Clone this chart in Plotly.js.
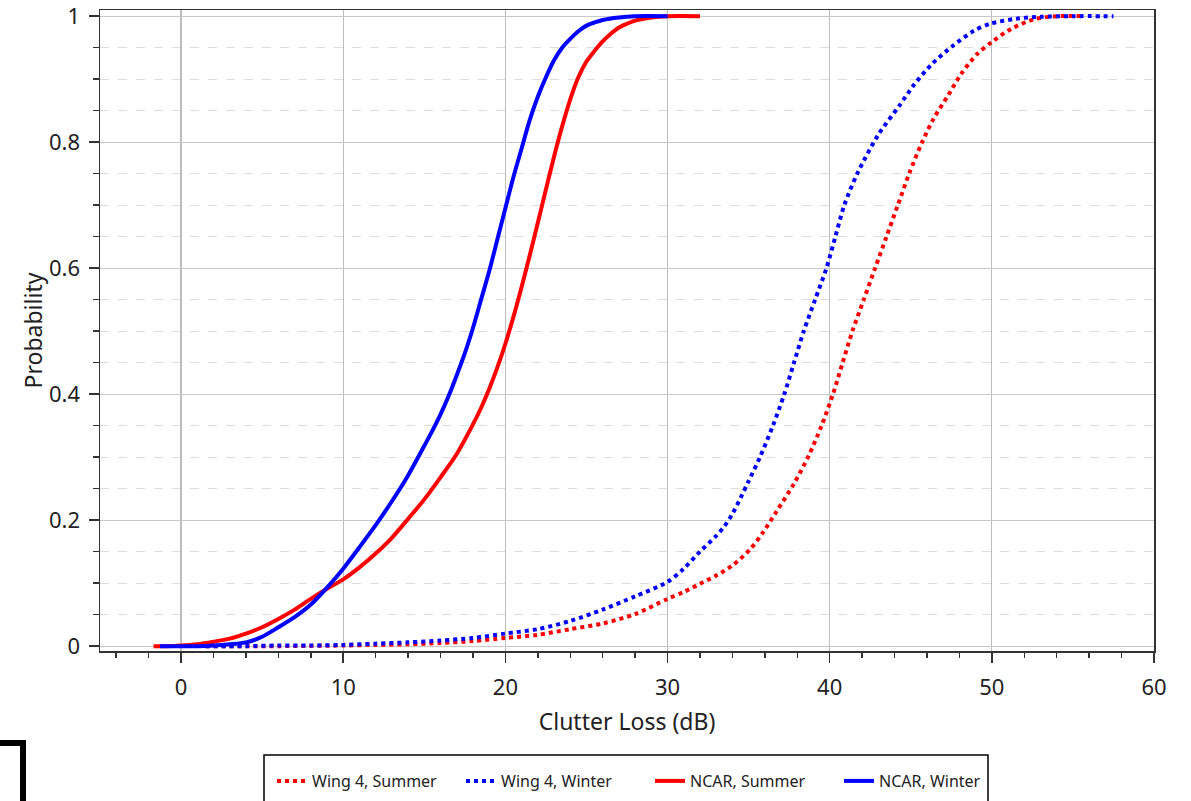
<!DOCTYPE html>
<html>
<head>
<meta charset="utf-8">
<script src="https://cdn.plot.ly/plotly-3.0.1.min.js"></script>
<style>
  html, body { margin: 0; padding: 0; background: #ffffff; }
  #chart { width: 1191px; height: 801px; }
</style>
</head>
<body>
<div id="chart"></div>
<script>
// Series names (legend order)
const seriesNames = ["Wing 4, Summer", "Wing 4, Winter", "NCAR, Summer", "NCAR, Winter"];

// Wing 4, Summer (red dotted)
const wingSummerX = [1.5, 6, 10, 12, 14, 16, 18, 20, 22, 24, 26, 28, 30, 31, 32, 33, 34, 35.1, 35.9, 36.7, 37.8, 38.7, 39.5, 40.2, 40.8, 41.4, 42.1, 42.8, 43.5, 44.2, 44.9, 45.7, 46.4, 47.3, 48.1, 49.1, 50, 51.2, 52.6, 54, 55.6];
const wingSummerY = [0, 0, 0.001, 0.002, 0.003, 0.005, 0.008, 0.013, 0.018, 0.027, 0.036, 0.051, 0.075, 0.086, 0.099, 0.112, 0.128, 0.154, 0.181, 0.213, 0.258, 0.302, 0.35, 0.4, 0.45, 0.5, 0.55, 0.6, 0.65, 0.7, 0.75, 0.8, 0.837, 0.874, 0.908, 0.94, 0.959, 0.98, 0.995, 1, 1];

// Wing 4, Winter (blue dotted)
const wingWinterX = [1.5, 4, 6, 8, 10, 12, 14, 16, 18, 20, 22, 24, 26, 28, 30, 31, 32, 33, 33.5, 34, 34.5, 35, 35.7, 36.5, 37.2, 37.8, 38.4, 39.1, 39.8, 40.35, 40.9, 41.7, 43.0, 44.3, 45.2, 46.3, 47.6, 48.9, 49.9, 51.5, 53, 55, 57.5];
const wingWinterY = [0, 0, 0.001, 0.001, 0.002, 0.004, 0.006, 0.009, 0.013, 0.02, 0.027, 0.04, 0.058, 0.079, 0.102, 0.123, 0.15, 0.175, 0.19, 0.21, 0.235, 0.262, 0.3, 0.35, 0.4, 0.45, 0.5, 0.55, 0.6, 0.65, 0.7, 0.75, 0.812, 0.858, 0.891, 0.924, 0.953, 0.977, 0.988, 0.996, 0.999, 1, 1];

// NCAR, Summer (red solid)
const ncarSummerX = [-1.7, -1, 0, 1, 2, 3, 4, 5, 6, 7, 8, 9, 10, 11, 12, 13, 14, 15, 16, 17, 18, 18.5, 19, 19.5, 20, 20.5, 21, 21.5, 22, 22.5, 23, 23.5, 24, 24.5, 25, 25.5, 26, 26.5, 27, 27.5, 28, 29, 30, 32];
const ncarSummerY = [0, 0, 0.001, 0.003, 0.007, 0.012, 0.02, 0.03, 0.043, 0.058, 0.075, 0.091, 0.106, 0.125, 0.147, 0.172, 0.202, 0.233, 0.268, 0.305, 0.352, 0.378, 0.408, 0.442, 0.48, 0.523, 0.57, 0.62, 0.672, 0.725, 0.777, 0.825, 0.868, 0.903, 0.928, 0.945, 0.96, 0.972, 0.982, 0.988, 0.993, 0.998, 1, 1];

// NCAR, Winter (blue solid)
const ncarWinterX = [-1.3, 0, 1, 2, 3, 4, 5, 6, 7, 8, 9, 10, 11, 12, 13, 14, 15, 15.5, 16, 16.5, 17, 17.5, 18, 18.5, 19, 19.5, 20, 20.5, 21, 21.5, 22, 22.5, 23, 23.5, 24, 24.5, 25, 25.5, 26, 27, 28, 30];
const ncarWinterY = [0, 0, 0, 0.001, 0.003, 0.006, 0.015, 0.03, 0.046, 0.066, 0.093, 0.123, 0.157, 0.192, 0.23, 0.271, 0.318, 0.342, 0.368, 0.397, 0.43, 0.465, 0.505, 0.55, 0.595, 0.645, 0.695, 0.745, 0.79, 0.835, 0.872, 0.903, 0.93, 0.95, 0.964, 0.976, 0.985, 0.99, 0.994, 0.998, 1, 1];

// Axis ticks
const yTickVals = [0, 0.2, 0.4, 0.6, 0.8, 1];
const yTickText = ["0", "0.2", "0.4", "0.6", "0.8", "1"];
const xTickVals = [0, 10, 20, 30, 40, 50, 60];
const xTickText = ["0", "10", "20", "30", "40", "50", "60"];

const RED = "#ff0000", BLUE = "#0000ff";
const FONT = "Noto Sans, Open Sans, DejaVu Sans, sans-serif";
const TXT = "#222222";

const traces = [
  {x: wingSummerX, y: wingSummerY, name: seriesNames[0], mode: "lines",
   line: {color: RED, width: 4, dash: "dot", shape: "spline", smoothing: 0.8}},
  {x: wingWinterX, y: wingWinterY, name: seriesNames[1], mode: "lines",
   line: {color: BLUE, width: 4, dash: "dot", shape: "spline", smoothing: 0.8}},
  {x: ncarSummerX, y: ncarSummerY, name: seriesNames[2], mode: "lines",
   line: {color: RED, width: 4, shape: "spline", smoothing: 0.8}},
  {x: ncarWinterX, y: ncarWinterY, name: seriesNames[3], mode: "lines",
   line: {color: BLUE, width: 4, shape: "spline", smoothing: 0.8}}
];

// plot area in pixels: left 100, right 1154, top 10, bottom 651
const L = 100, R = 1154, T = 10, B = 651, W = 1191, H = 801;
const px = v => (v - L) / (R - L);
const py = v => (B - v) / (B - T);

const layout = {
  width: W, height: H,
  margin: {l: L, r: W - R, t: T, b: H - B, pad: 0},
  paper_bgcolor: "#ffffff", plot_bgcolor: "#ffffff",
  font: {family: FONT, color: TXT, size: 22},
  showlegend: true,
  legend: {
    orientation: "h", xref: "paper", x: px(272), xanchor: "left",
    yref: "container", y: 1 - 764 / H, yanchor: "top",
    font: {family: FONT, size: 16, color: TXT},
    bgcolor: "rgba(0,0,0,0)", borderwidth: 0,
    entrywidth: 144, entrywidthmode: "pixels", traceorder: "normal"
  },
  xaxis: {
    range: [-5, 60], autorange: false,
    tickmode: "array", tickvals: xTickVals, ticktext: xTickText,
    ticks: "outside", ticklen: 10, tickwidth: 1.5, tickcolor: "#333333",
    ticklabelstandoff: 6, ticklabeloverflow: "allow",
    showline: true, linecolor: "#333333", linewidth: 1.5, mirror: true,
    showgrid: true, gridcolor: "#bdbdbd", gridwidth: 1.2,
    zeroline: false,
    tickfont: {family: FONT, size: 22, color: TXT},
    minor: {dtick: 2, tick0: 0, ticks: "outside", ticklen: 5, tickwidth: 1.5, tickcolor: "#333333", showgrid: false},
    title: {text: "Clutter Loss (dB)", font: {family: FONT, size: 23, color: TXT}, standoff: 14}
  },
  yaxis: {
    range: [-0.0077, 1.0098], autorange: false,
    tickmode: "array", tickvals: yTickVals, ticktext: yTickText,
    ticks: "outside", ticklen: 10, tickwidth: 1.5, tickcolor: "#333333",
    ticklabelstandoff: 4, ticklabeloverflow: "allow",
    showline: true, linecolor: "#333333", linewidth: 1.5, mirror: true,
    showgrid: true, gridcolor: "#c8c8c8", gridwidth: 1.2,
    zeroline: false,
    tickfont: {family: FONT, size: 22, color: TXT},
    minor: {dtick: 0.05, tick0: 0, ticks: "outside", ticklen: 6, tickwidth: 1.5, tickcolor: "#333333",
            showgrid: true, gridcolor: "#dddddd", griddash: "dash", gridwidth: 1},
    title: {text: "Probability", font: {family: FONT, size: 23, color: TXT}, standoff: 0}
  },
  shapes: [
    // legend frame
    {type: "rect", xref: "paper", yref: "paper", x0: px(264), x1: px(988), y0: py(755), y1: py(815),
     line: {color: "#000000", width: 1.5}, fillcolor: "rgba(0,0,0,0)", layer: "above"},
    // bracket at the bottom left
    {type: "path", xref: "paper", yref: "paper",
     path: `M ${px(-5)} ${py(743)} L ${px(23)} ${py(743)} L ${px(23)} ${py(820)}`,
     line: {color: "#000000", width: 6}, layer: "above"}
  ]
};

Plotly.newPlot("chart", traces, layout, {displayModeBar: false, staticPlot: true});
</script>
</body>
</html>
